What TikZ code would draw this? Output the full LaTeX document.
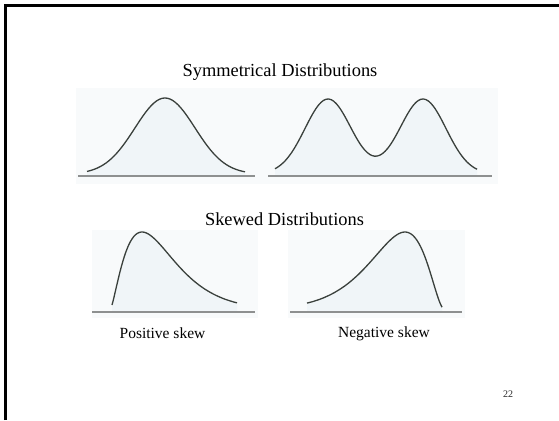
\documentclass[tikz,border=0pt]{standalone}
\usepackage{fontspec}
\setmainfont{Liberation Serif}
\definecolor{curvec}{HTML}{3A403C}
\definecolor{basec}{HTML}{8E9090}
\definecolor{fillc}{HTML}{F0F5F8}
\definecolor{panelc}{HTML}{F8FAFB}
\tikzset{
  curve/.style={draw=curvec, line width=1.3pt, line join=round},
  under/.style={fill=fillc},
  baseln/.style={draw=basec, line width=1.4pt},
  title/.style={anchor=base, inner sep=0pt, font=\fontsize{18.4}{20}\selectfont},
  caption/.style={anchor=base, inner sep=0pt, font=\fontsize{15.5}{17}\selectfont},
  pagenum/.style={anchor=base, inner sep=0pt, font=\fontsize{10}{12}\selectfont, text=black!85},
  frame/.style={draw=black, line width=3pt}
}
\begin{document}
\begin{tikzpicture}[x=1pt,y=-1pt]
\useasboundingbox (0,0) rectangle (559,420);
\fill[white] (0,0) rectangle (559,420);
% frame (only top and left edges visible)
\draw[frame] (5.5,420) -- (5.5,5.5) -- (559,5.5);
% faint panels
\fill[panelc] (76,88) rectangle (498,184);
\fill[panelc] (92,230) rectangle (258,318);
\fill[panelc] (288,230) rectangle (465,318);
% titles
\node[title] (symt) at (280,77) {Symmetrical Distributions};
\node[title] (skwt) at (284.5,225) {Skewed Distributions};
% symmetric unimodal
\fill[under] plot[smooth, samples=60, domain=87:245] (\x,{174-76*exp(-((\x-165)/30)*((\x-165)/30)/2)}) -- (245,176) -- (87,176) -- cycle;
\draw[curve] plot[smooth, samples=60, domain=87:245] (\x,{174-76*exp(-((\x-165)/30)*((\x-165)/30)/2)});
\draw[baseln] (78,176) -- (255,176);
% symmetric bimodal
\fill[under] plot[smooth, samples=80, domain=275:477] (\x,{174-75*(exp(-((\x-328)/23)*((\x-328)/23)/2)+exp(-((\x-423)/23)*((\x-423)/23)/2))}) -- (477,176) -- (275,176) -- cycle;
\draw[curve] plot[smooth, samples=80, domain=275:477] (\x,{174-75*(exp(-((\x-328)/23)*((\x-328)/23)/2)+exp(-((\x-423)/23)*((\x-423)/23)/2))});
\draw[baseln] (268,176) -- (492,176);
% positive skew
\fill[under] plot[smooth, samples=70, domain=112:237] (\x,{310-78*((\x-110)/32)^1.5*exp(-1.5*((\x-110)/32-1))}) -- (237,312) -- (112,312) -- cycle;
\draw[curve] plot[smooth, samples=70, domain=112:237] (\x,{310-78*((\x-110)/32)^1.5*exp(-1.5*((\x-110)/32-1))});
\draw[baseln] (92,312) -- (255,312);
% negative skew
\fill[under] plot[smooth, samples=70, domain=307:442] (\x,{310-78*((445-\x)/40)*((445-\x)/40)*exp(-2*((445-\x)/40-1))}) -- (442,312) -- (307,312) -- cycle;
\draw[curve] plot[smooth, samples=70, domain=307:442] (\x,{310-78*((445-\x)/40)*((445-\x)/40)*exp(-2*((445-\x)/40-1))});
\draw[baseln] (290,312) -- (462,312);
% captions
\node[caption] (pos) at (162.5,338) {Positive skew};
\node[caption] (neg) at (384,337) {Negative skew};
\node[pagenum] (pg) at (508,397) {22};
\end{tikzpicture}
\end{document}
